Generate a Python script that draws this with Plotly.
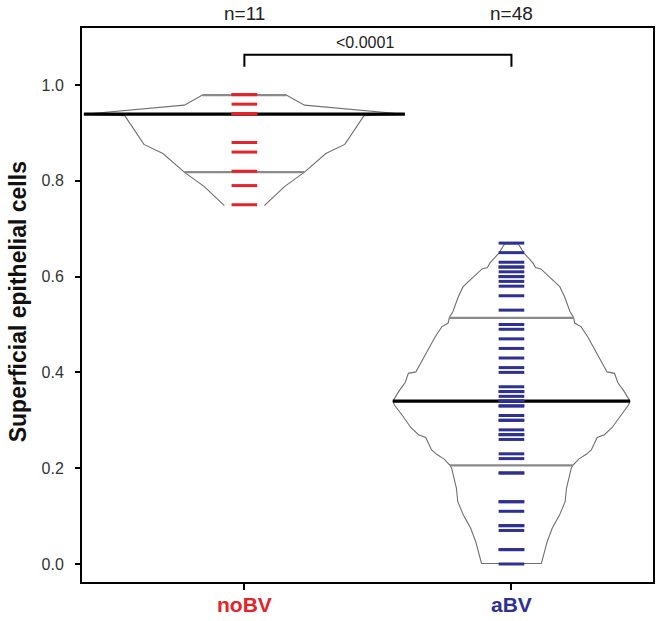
import numpy as np
import plotly.graph_objects as go

# ---------------- data ----------------
groups = ["noBV", "aBV"]
group_colors = ["#E3242B", "#2E3192"]

noBV_values = [0.75, 0.79, 0.82, 0.86, 0.88, 0.94, 0.94, 0.94, 0.96, 0.98, 0.98]
aBV_values = [0.67, 0.65, 0.63, 0.62, 0.62, 0.61, 0.60, 0.60, 0.59, 0.58, 0.56, 0.53,
              0.50, 0.49, 0.47, 0.45, 0.43, 0.41, 0.40, 0.37, 0.36, 0.36, 0.35, 0.34,
              0.34, 0.34, 0.33, 0.33, 0.31, 0.30, 0.30, 0.28, 0.27, 0.27, 0.26, 0.23,
              0.22, 0.19, 0.19, 0.13, 0.13, 0.11, 0.08, 0.08, 0.07, 0.03, 0.03, 0.00]

medians = [0.939, 0.340]
lower_quartiles = [0.818, 0.206]
upper_quartiles = [0.979, 0.514]

# bean density outline: level and half-width (x-axis units)
noBV_levels = [0.748, 0.788, 0.818, 0.857, 0.876, 0.936, 0.939, 0.958, 0.979]
noBV_halfwidth = [0.075, 0.150, 0.225, 0.305, 0.376, 0.448, 0.601, 0.225, 0.157]

aBV_levels = [0.001, 0.047, 0.075, 0.102, 0.130, 0.158, 0.200, 0.206, 0.219, 0.229,
              0.238, 0.264, 0.270, 0.285, 0.309, 0.332, 0.340, 0.362, 0.379, 0.398,
              0.401, 0.429, 0.474, 0.495, 0.503, 0.514, 0.527, 0.558, 0.579, 0.616,
              0.619, 0.628, 0.649, 0.668]
aBV_halfwidth = [0.112, 0.134, 0.153, 0.180, 0.201, 0.206, 0.224, 0.230, 0.252, 0.280,
                 0.299, 0.321, 0.348, 0.377, 0.407, 0.438, 0.444, 0.420, 0.398, 0.386,
                 0.358, 0.330, 0.286, 0.261, 0.237, 0.233, 0.219, 0.199, 0.181, 0.110,
                 0.090, 0.081, 0.047, 0.026]

p_value_label = "<0.0001"
y_tick_values = [0.0, 0.2, 0.4, 0.6, 0.8, 1.0]
y_title = "Superficial epithelial cells"

# ---------------- figure ----------------
values = [noBV_values, aBV_values]
levels = [noBV_levels, aBV_levels]
halfw = [noBV_halfwidth, aBV_halfwidth]
closed_bottom = [False, True]
positions = [1, 2]
rug_half = 0.048
FONT = "Liberation Sans, Arial, Helvetica"

fig = go.Figure()

for i, g in enumerate(groups):
    c = positions[i]
    lv = np.array(levels[i])
    hw = np.array(halfw[i])
    xs = list(c - hw) + list((c + hw)[::-1])
    ys = list(lv) + list(lv[::-1])
    if closed_bottom[i]:
        xs.append(xs[0]); ys.append(ys[0])
    fig.add_trace(go.Scatter(x=xs, y=ys, mode="lines",
                             line=dict(color="#707070", width=1.1),
                             hoverinfo="skip", showlegend=False))

for i, g in enumerate(groups):
    c = positions[i]
    lv = np.array(levels[i]); hw = np.array(halfw[i])
    m = hw.max()
    fig.add_trace(go.Scatter(x=[c - m, c + m], y=[medians[i], medians[i]], mode="lines",
                             line=dict(color="black", width=3.2),
                             hoverinfo="skip", showlegend=False))
    qx, qy = [], []
    for q in (lower_quartiles[i], upper_quartiles[i]):
        w = float(np.interp(q, lv, hw))
        qx += [c - w, c + w, None]
        qy += [q, q, None]
    fig.add_trace(go.Scatter(x=qx, y=qy, mode="lines",
                             line=dict(color="#8a8a8a", width=2.2),
                             hoverinfo="skip", showlegend=False))

for i, g in enumerate(groups):
    c = positions[i]
    rx, ry = [], []
    for v in values[i]:
        rx += [c - rug_half, c + rug_half, None]
        ry += [v, v, None]
    fig.add_trace(go.Scatter(x=rx, y=ry, mode="lines",
                             line=dict(color=group_colors[i], width=3),
                             hoverinfo="skip", showlegend=False))

# significance bracket
fig.add_trace(go.Scatter(x=[positions[0], positions[0], positions[1], positions[1]],
                         y=[1.038, 1.063, 1.063, 1.038], mode="lines",
                         line=dict(color="black", width=2),
                         hoverinfo="skip", showlegend=False))
fig.add_annotation(x=1.45, y=1.088, xref="x", yref="y", text=p_value_label,
                   showarrow=False, font=dict(size=16, color="#222", family=FONT))

for i, g in enumerate(groups):
    fig.add_annotation(x=positions[i], y=1.027, xref="x", yref="paper",
                       text=f"n={len(values[i])}", showarrow=False, yanchor="middle",
                       xanchor="center",
                       font=dict(size=19, color="#222", family=FONT))
    fig.add_annotation(x=positions[i], y=-0.041, xref="x", yref="paper",
                       text=f"<b>{g}</b>", showarrow=False, yanchor="middle",
                       xanchor="center",
                       font=dict(size=21, color=group_colors[i], family=FONT))

fig.add_annotation(x=-0.112, y=0.505, xref="paper", yref="paper", text=f"<b>{y_title}</b>",
                   textangle=-90, showarrow=False, xanchor="center", yanchor="middle",
                   font=dict(size=23, color="#111", family=FONT))

fig.update_layout(
    width=661, height=621,
    margin=dict(l=82, r=6, t=28, b=39),
    paper_bgcolor="white", plot_bgcolor="white",
    showlegend=False,
)
fig.update_xaxes(range=[0.392, 2.53], tickvals=positions, showticklabels=False,
                 ticks="outside", ticklen=6, tickwidth=2, tickcolor="black",
                 showline=True, linewidth=2, linecolor="black", mirror=True,
                 showgrid=False, zeroline=False)
fig.update_yaxes(range=[-0.0376, 1.119], tickvals=y_tick_values,
                 ticktext=[f"{v:.1f}" for v in y_tick_values],
                 ticks="outside", ticklen=5, tickwidth=1.5, tickcolor="black",
                 tickfont=dict(size=16, color="#333", family=FONT),
                 ticklabelstandoff=8,
                 showline=True, linewidth=2, linecolor="black", mirror=True,
                 showgrid=False, zeroline=False)

fig.write_html("out.html",
               config={"displayModeBar": False},
               post_script="document.body.style.margin='0px';document.body.style.padding='0px';")
